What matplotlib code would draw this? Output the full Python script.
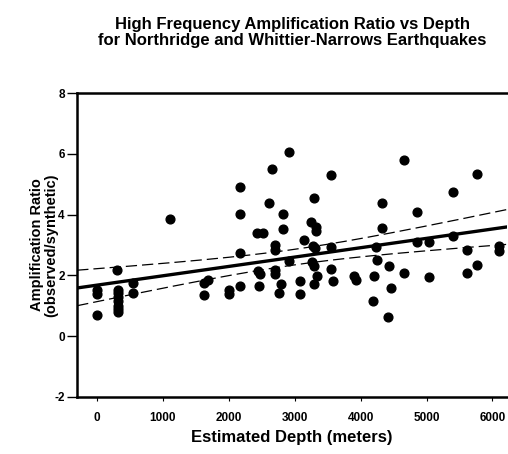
import numpy as np
import matplotlib.pyplot as plt

plt.rcParams['font.family'] = ['Liberation Sans', 'DejaVu Sans']
plt.rcParams['axes.unicode_minus'] = False

# estimated depth (m) and amplification ratio
depth = [0, 0, 0,
         310, 320, 320, 320, 320, 320, 320, 320,
         550, 550, 1114, 1630, 1630, 1680, 2010, 2010,
         2165, 2165, 2165, 2165, 2430, 2515, 2450, 2477, 2465,
         2614, 2650, 2705, 2705, 2705, 2705, 2760, 2795, 2820, 2820,
         2906, 2920, 3083, 3083, 3134, 3250, 3330, 3330, 3285, 3283,
         3310, 3260, 3295, 3295, 3336, 3550, 3550, 3550, 3588,
         3905, 3935, 4194, 4205, 4235, 4245, 4330, 4330, 4412, 4436,
         4465, 4664, 4664, 4856, 4856, 5042, 5042, 5397, 5406,
         5606, 5606, 5770, 5770, 6100, 6100]
ratio = [1.50, 1.40, 0.68,
         2.17, 1.52, 1.42, 1.28, 1.15, 1.00, 0.88, 0.80,
         1.76, 1.43, 3.84, 1.34, 1.75, 1.85, 1.53, 1.37,
         4.90, 4.02, 2.74, 1.66, 3.40, 3.40, 2.14, 2.03, 1.65,
         4.38, 5.51, 2.99, 2.82, 2.19, 2.03, 1.43, 1.72, 4.02, 3.52,
         2.46, 6.05, 1.82, 1.37, 3.17, 3.76, 3.60, 3.45, 4.53, 2.96,
         2.90, 2.44, 2.30, 1.70, 1.97, 5.29, 2.92, 2.22, 1.80,
         1.99, 1.83, 1.15, 1.97, 2.94, 2.52, 4.37, 3.55, 0.62, 2.30,
         1.57, 5.81, 2.08, 4.09, 3.09, 3.09, 1.95, 3.31, 4.73,
         2.83, 2.06, 5.32, 2.33, 2.98, 2.79]

x = np.array(depth, dtype=float)
y = np.array(ratio)

# linear fit + 95% confidence band of the mean
b, a = np.polyfit(x, y, 1)
n = len(x)
resid = y - (a + b * x)
s = np.sqrt(np.sum(resid ** 2) / (n - 2))
sxx = np.sum((x - x.mean()) ** 2)
t = 1.987

xmin, xmax = -300, 6220
xx = np.linspace(xmin, xmax, 200)
yy = a + b * xx
half = t * s * np.sqrt(1 / n + (xx - x.mean()) ** 2 / sxx)

fig = plt.figure(figsize=(5.08, 4.54), dpi=100)
ax = fig.add_axes([0.152, 0.126, 0.846, 0.669])

ax.plot(x, y, 'o', color='black', markersize=6.3, zorder=3)
ax.plot(xx, yy, color='black', lw=2.4)
ax.plot(xx, yy + half, color='black', lw=0.9, dashes=(9, 4))
ax.plot(xx, yy - half, color='black', lw=0.9, dashes=(9, 4))

ax.set_xlim(xmin, xmax)
ax.set_ylim(-2, 8)
ax.set_xticks([0, 1000, 2000, 3000, 4000, 5000, 6000])
ax.set_yticks([-2, 0, 2, 4, 6, 8])

for side in ['left', 'top', 'bottom']:
    ax.spines[side].set_linewidth(1.8)
ax.spines['right'].set_visible(False)

ax.tick_params(axis='y', direction='out', length=7, width=1, labelsize=8.5, pad=2)
ax.tick_params(axis='x', direction='out', length=3, width=0.8, labelsize=8.5, pad=8)
for lab in ax.get_xticklabels() + ax.get_yticklabels():
    lab.set_fontweight('bold')

ax.set_xlabel('Estimated Depth (meters)', fontsize=12, fontweight='bold', labelpad=4)
ax.set_ylabel('Amplification Ratio\n(observed/synthetic)', fontsize=10.5,
              fontweight='bold', labelpad=-3, linespacing=1.0)

fig.text(0.576, 0.963, 'High Frequency Amplification Ratio vs Depth\n'
         'for Northridge and Whittier-Narrows Earthquakes',
         ha='center', va='top', fontsize=12, fontweight='bold', linespacing=1.1)

fig.savefig('out.png', dpi=100)
